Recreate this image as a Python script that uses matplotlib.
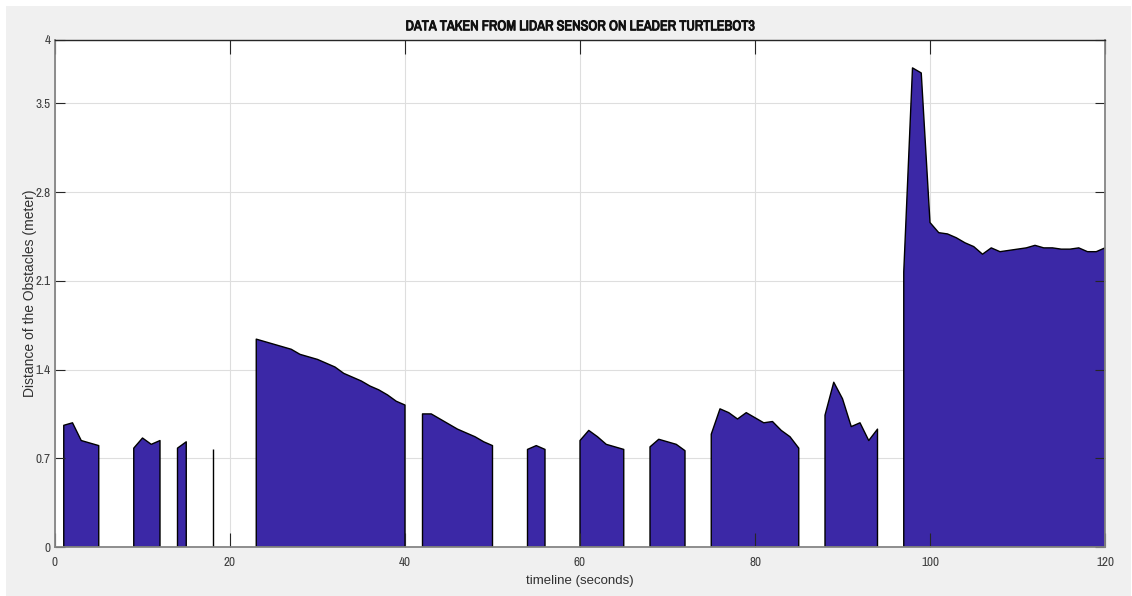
import numpy as np
import matplotlib
matplotlib.use("Agg")
import matplotlib.pyplot as plt
import matplotlib.patheffects as pe
from matplotlib import font_manager
from matplotlib.patches import Rectangle

# lidar readings, one per second; each run starts at the given second
run_start = [1, 9, 14, 18, 23, 42, 54, 60, 68, 75, 88, 97]
run_values = [
    [0.96, 0.98, 0.84, 0.82, 0.80],
    [0.78, 0.86, 0.81, 0.84],
    [0.78, 0.83],
    [0.77],
    [1.64, 1.62, 1.60, 1.58, 1.56, 1.52, 1.50, 1.48, 1.45, 1.42,
     1.37, 1.34, 1.31, 1.27, 1.24, 1.20, 1.15, 1.12],
    [1.05, 1.05, 1.01, 0.97, 0.93, 0.90, 0.87, 0.83, 0.80],
    [0.77, 0.80, 0.77],
    [0.84, 0.92, 0.87, 0.81, 0.79, 0.77],
    [0.79, 0.85, 0.83, 0.81, 0.76],
    [0.89, 1.09, 1.06, 1.01, 1.06, 1.02, 0.98, 0.99, 0.92, 0.87, 0.78],
    [1.04, 1.30, 1.17, 0.95, 0.98, 0.84, 0.93],
    [2.17, 3.78, 3.74, 2.56, 2.48, 2.47, 2.44, 2.40, 2.37, 2.31,
     2.36, 2.33, 2.34, 2.35, 2.36, 2.38, 2.36, 2.36, 2.35, 2.35,
     2.36, 2.33, 2.33, 2.36],
]
x_ticks = [0, 20, 40, 60, 80, 100, 120]
y_ticks = [0, 0.7, 1.4, 2.1, 2.8, 3.5, 4]
y_labels = ["0", "0.7", "1.4", "2.1", "2.8", "3.5", "4"]

t = np.arange(0, 121)
dist = np.full(t.shape, np.nan)
for start, vals in zip(run_start, run_values):
    dist[start:start + len(vals)] = vals

# condensed face for title and ticks if one is installed
fonts = font_manager.fontManager.ttflist
cond_names = sorted({f.name for f in fonts
                     if "Narrow" in f.name or "Condensed" in f.name})
narrow = cond_names[:1] + ["Liberation Sans"]

W, H = 1132, 596
fig = plt.figure(figsize=(W / 100, H / 100), dpi=100, facecolor="white")
fig.patches.append(Rectangle((6 / W, 0), 1 - 7 / W, 1 - 6 / H,
                             transform=fig.transFigure, facecolor="#f0f0f0",
                             edgecolor="none", zorder=-10))
ax = fig.add_axes([55 / W, 49 / H, 1050 / W, 507 / H])
ax.set_facecolor("white")

# grid behind the filled area, ticks stay on top
for xv in x_ticks:
    ax.axvline(xv, color="#dedede", lw=0.8, zorder=0)
for yv in y_ticks:
    ax.axhline(yv, color="#dedede", lw=0.8, zorder=0)

ax.fill_between(t, 0, dist, facecolor="#3b28a6", edgecolor="black",
                linewidth=1.0, zorder=1)

ax.set_xlim(0, 120)
ax.set_ylim(0, 4)
ax.set_xticks(x_ticks)
ax.set_yticks(y_ticks)
ax.set_yticklabels(y_labels)

for lbl in ax.get_xticklabels() + ax.get_yticklabels():
    lbl.set_family(narrow)
    lbl.set_fontsize(9.5)
    lbl.set_color("#404040")

ax.tick_params(axis="x", direction="in", length=10, width=0.8, pad=7,
               top=True, color="#262626")
ax.tick_params(axis="y", direction="in", length=7, width=0.8, pad=3,
               right=True, color="#262626")
for side in ["left", "bottom", "right"]:
    ax.spines[side].set_color("#858585")
    ax.spines[side].set_linewidth(1.3)
ax.spines["top"].set_color("#262626")
ax.spines["top"].set_linewidth(1.0)

# thin stroke thickens the condensed face into a bold look
ttl = ax.set_title("DATA TAKEN FROM LIDAR SENSOR ON LEADER TURTLEBOT3",
                   family=narrow, fontsize=10.2, pad=7, color="#111111")
ttl.set_path_effects([pe.withStroke(linewidth=0.7, foreground="#111111")])
ax.set_xlabel("timeline (seconds)", family="Liberation Sans", fontsize=9.5,
              color="#303030", labelpad=5)
ax.set_ylabel("Distance of the Obstacles (meter)", family="Liberation Sans",
              fontsize=10, color="#303030")
ax.yaxis.set_label_coords(-18 / 1050, 0.5)

fig.savefig("out.png", dpi=100, facecolor=fig.get_facecolor())
